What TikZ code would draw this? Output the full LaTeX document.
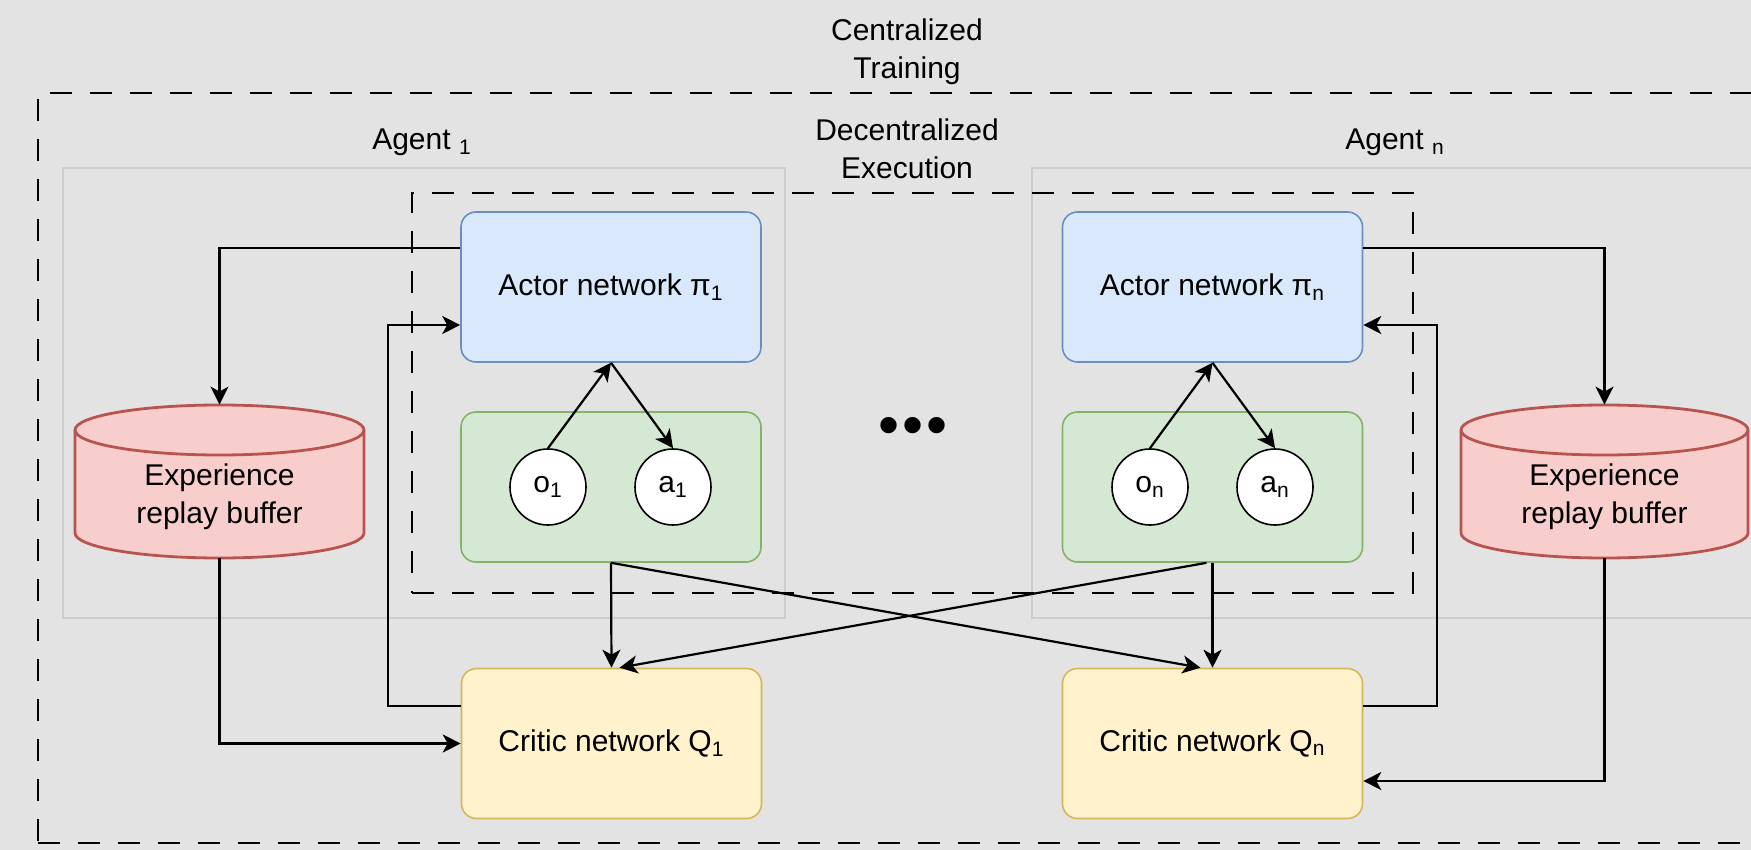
\documentclass[tikz,border=0pt]{standalone}
\usepackage{fontspec}
\setmainfont{Liberation Sans}
\usetikzlibrary{arrows.meta,calc}
\definecolor{bgc}{HTML}{E3E3E3}
\definecolor{agentline}{HTML}{CDCDCD}
\definecolor{actfill}{HTML}{DAE8FC}
\definecolor{actline}{HTML}{6C8EBF}
\definecolor{envfill}{HTML}{D5E8D4}
\definecolor{envline}{HTML}{82B366}
\definecolor{crifill}{HTML}{FFF2CC}
\definecolor{criline}{HTML}{D6B656}
\definecolor{buffill}{HTML}{F8CECC}
\definecolor{bufline}{HTML}{B85450}
\tikzset{
  agentbox/.style={draw=agentline, line width=0.7pt, minimum width=#1, minimum height=225pt, inner sep=0pt},
  dashbox/.style={draw=black, line width=1.3pt, dash pattern=on 11pt off 9pt, inner sep=0pt},
  netbox/.style={rounded corners=7.5pt, line width=0.8pt, minimum width=150pt, minimum height=75pt, inner sep=0pt, align=center},
  actorbox/.style={netbox, fill=actfill, draw=actline},
  envbox/.style={netbox, fill=envfill, draw=envline},
  criticbox/.style={netbox, fill=crifill, draw=criline},
  varnode/.style={circle, draw=black, fill=white, line width=0.8pt, minimum size=38pt, inner sep=0pt},
  bufshape/.style={fill=buffill, draw=bufline, line width=1.4pt},
  bufnode/.style={minimum width=144.5pt, minimum height=76.5pt, inner sep=0pt},
  txt/.style={inner sep=0pt, align=center},
  arr/.style={draw=black, line width=1.1pt, -{Stealth[length=9pt,width=9pt,inset=2.5pt]}},
}
\begin{document}
\begin{tikzpicture}[x=0.5pt,y=-0.5pt,font=\fontsize{15}{19}\selectfont]
\fill[bgc] (0,0) rectangle (1751,850);
\useasboundingbox (0,0) rectangle (1751,850);
\clip (0,0) rectangle (1751,850);

% containers
\node[agentbox=361pt] (agent1) at (424,393) {};
\node[agentbox=384pt] (agentn) at (1416,393) {};
\node[dashbox, minimum width=881pt, minimum height=375pt] (train) at (919,468) {};
\node[dashbox, minimum width=500.5pt, minimum height=200pt] (exec) at (912.5,393) {};

% titles
\node[txt] (trainlbl) at (907,52) {Centralized\\Training};
\node[txt] (execlbl) at (907,149) {Decentralized\\Execution};
\node[txt, anchor=base] (agent1lbl) at (422,150) {Agent \textsubscript{1}};
\node[txt, anchor=base] (agentnlbl) at (1395,150) {Agent \textsubscript{n}};

% networks
\node[actorbox] (actor1) at (611,287) {Actor network π\textsubscript{1}};
\node[actorbox] (actorn) at (1212.5,287) {Actor network π\textsubscript{n}};
\node[envbox] (env1) at (611,487) {};
\node[envbox] (envn) at (1212.5,487) {};
\node[criticbox] (critic1) at (611.5,743.5) {Critic network Q\textsubscript{1}};
\node[criticbox] (criticn) at (1212.5,743.5) {Critic network Q\textsubscript{n}};

\node[varnode] (o1) at (548,487) {o\textsubscript{1}};
\node[varnode] (a1) at (673,487) {a\textsubscript{1}};
\node[varnode] (on) at (1150,487) {o\textsubscript{n}};
\node[varnode] (an) at (1275,487) {a\textsubscript{n}};

\node[txt, font=\fontsize{30}{30}\selectfont] (dots) at (913,431) {•\hspace{1.5pt}•\hspace{1.5pt}•};

% buffers
\path[bufshape] (75,430) -- (75,533) arc[start angle=180,end angle=360,x radius=72.25pt,y radius=12.5pt] -- (364,430) arc[start angle=0,end angle=180,x radius=72.25pt,y radius=12.5pt] -- cycle;
\draw[bufline, line width=1.4pt] (75,430) arc[start angle=180,end angle=360,x radius=72.25pt,y radius=12.5pt];
\node[bufnode] (buf1) at (219.5,481.5) {};
\node[txt] (buf1txt) at (219.5,497) {Experience\\replay buffer};

\path[bufshape] (1461,430) -- (1461,533) arc[start angle=180,end angle=360,x radius=71.75pt,y radius=12.5pt] -- (1748,430) arc[start angle=0,end angle=180,x radius=71.75pt,y radius=12.5pt] -- cycle;
\draw[bufline, line width=1.4pt] (1461,430) arc[start angle=180,end angle=360,x radius=71.75pt,y radius=12.5pt];
\node[bufnode, minimum width=143.5pt] (bufn) at (1604.5,481.5) {};
\node[txt] (bufntxt) at (1604.5,497) {Experience\\replay buffer};

% connectors agent 1
\draw[arr] ([yshift=19.5pt]actor1.west) -| (buf1.north);
\draw[arr] (buf1.south) |- (critic1.west);
\draw[arr] ([yshift=18.75pt]critic1.west) -- ++(-73,0) |- ([yshift=-19pt]actor1.west);
\draw[arr] (o1.north) -- (actor1.south);
\draw[arr] (actor1.south) -- (a1.north);

% connectors agent n
\draw[arr] ([yshift=19.5pt]actorn.east) -| (bufn.north);
\draw[arr] (bufn.south) |- ([yshift=-18.75pt]criticn.east);
\draw[arr] ([yshift=18.75pt]criticn.east) -- ++(74,0) |- ([yshift=-19pt]actorn.east);
\draw[arr] (on.north) -- (actorn.south);
\draw[arr] (actorn.south) -- (an.north);

% to critics
\draw[arr] (env1.south) -- (critic1.north);
\draw[arr] (env1.south) -- ([xshift=-6pt]criticn.north);
\draw[arr] ([xshift=-3pt]envn.south) -- ([xshift=4pt]critic1.north);
\draw[arr] (envn.south) -- (criticn.north);
\end{tikzpicture}
\end{document}
